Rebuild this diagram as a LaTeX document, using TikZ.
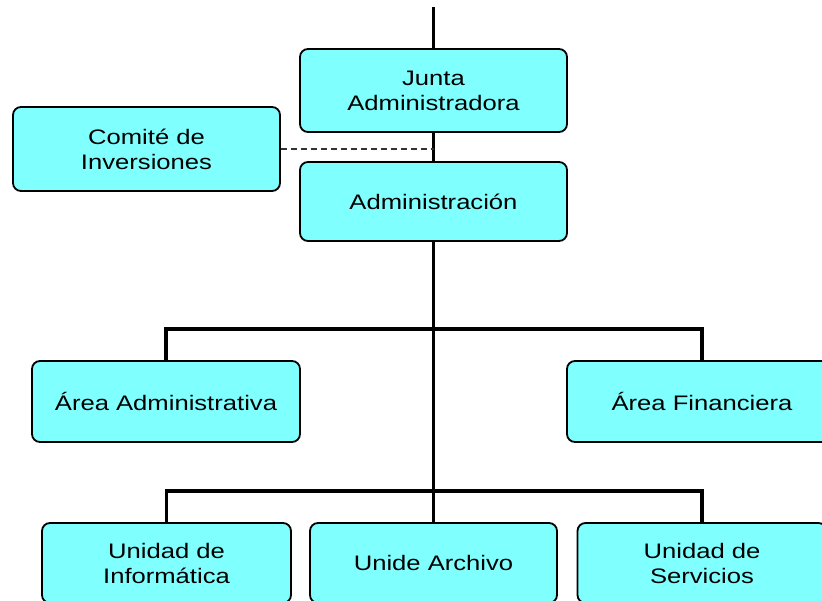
\documentclass[tikz,border=0pt]{standalone}
\usepackage{fontspec}
\setmainfont{Liberation Sans}[FakeStretch=1.22]
\definecolor{boxcyan}{HTML}{80FFFF}
\tikzset{
        unit/.style={rectangle, rounded corners=8pt, draw=black, line width=1.8pt, fill=boxcyan,
          minimum width=267pt, minimum height=81pt, align=center, font=\fontsize{21}{25}\selectfont},
        link/.style={line width=3.5pt},
        advice/.style={dashed, line width=1.3pt, dash pattern=on 6pt off 4pt, draw=black!80}
          }
\begin{document}
\begin{tikzpicture}[x=1pt, y=-1pt]
            \clip (0,0) rectangle (822,601);
            \node[unit, minimum height=83pt] (junta) at (433.5,90.5) {Junta\\Administradora};
            \node[unit, minimum height=84pt] (comite) at (146.5,149) {Comité de\\Inversiones};
            \node[unit, minimum height=79pt] (admin) at (433.5,201.5) {Administración};
            \node[unit, minimum width=268pt] (aadm) at (166,401.5) {Área Administrativa};
            \node[unit, minimum width=270pt] (afin) at (702,401.5) {Área Financiera};
            \node[unit, minimum width=249pt, minimum height=80pt] (uinf) at (166.5,563) {Unidad de\\Informática};
            \node[unit, minimum width=247pt, minimum height=80pt] (uarch) at (433.5,563) {Unide Archivo};
            \node[unit, minimum width=249pt, minimum height=80pt] (userv) at (702,563) {Unidad de\\Servicios};
            \coordinate (top) at (433.5,7);
            \coordinate (tap) at (433.5,149);
            \coordinate (bus1) at (433.5,329);
            \coordinate (bus2) at (433.5,491);
            % main line
            \draw[link] (top) -- (junta.north);
            \draw[link] (junta.south) -- (admin.north);
            \draw[link] (admin.south) -- (uarch.north);
            \draw[advice] (comite.east) -- (tap);
            % branches
            \draw[link] (aadm.north) |- (bus1) -| (afin.north);
            \draw[link] (uinf.north) |- (bus2) -| (userv.north);
          \end{tikzpicture}
\end{document}
